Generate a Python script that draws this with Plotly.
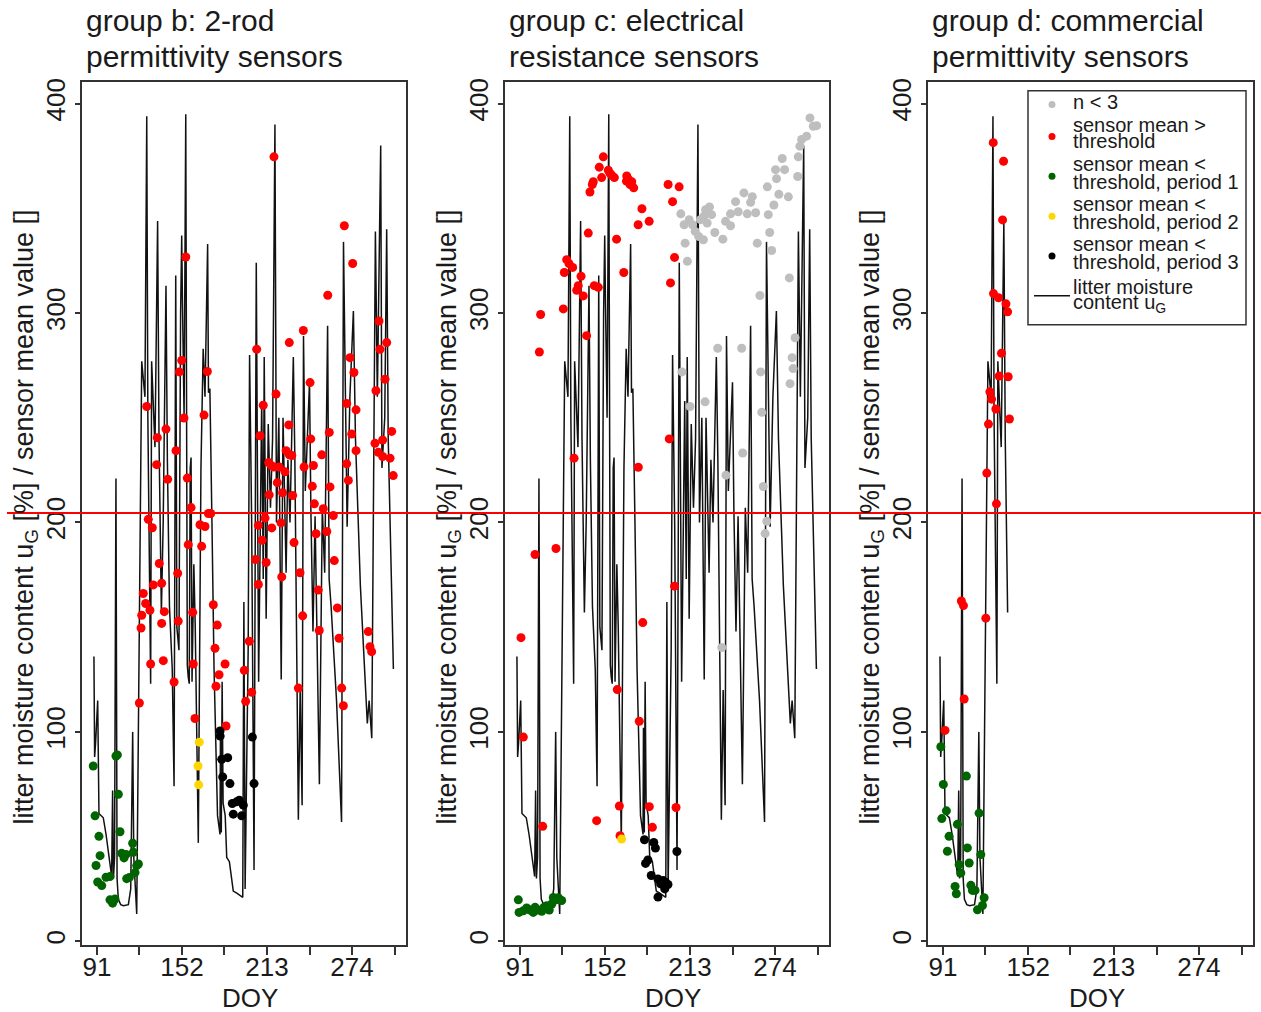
import plotly.graph_objects as go

W, H = 1261, 1012

# litter moisture content u_G (line), day of year and value
lmc_doy = [88.8, 89.3, 90.0, 91.5, 92.4, 95.5, 97.5, 100.3, 101.5, 102.2, 102.8, 103.6, 104.6, 105.4,
           106.3, 108.0, 110.0, 113.5, 115.2, 116.6, 117.4, 119.5, 121.4, 123.1, 125.4, 126.7, 127.5,
           129.5, 130.2, 131.5, 132.6, 134.5, 135.5, 137.2, 138.5, 140.5, 141.5, 143.0, 145.0, 146.3,
           147.5, 148.3, 149.8, 151.0, 151.8, 152.3, 153.5, 154.7, 155.8, 156.5, 157.2, 157.9, 158.5,
           159.2, 160.5, 161.5, 163.7, 165.6, 167.2, 168.5, 170.4, 171.0, 172.0, 173.5, 175.0, 177.5,
           179.3, 179.6, 180.2, 180.8, 181.5, 183.0, 184.1, 186.0, 187.5, 188.8, 191.3, 195.6, 196.4,
           197.3, 199.5, 200.5, 202.0, 203.7, 205.3, 207.0, 209.2, 210.3, 211.0, 212.4, 213.9, 215.5,
           217.0, 218.7, 219.8, 221.5, 223.2, 224.5, 226.7, 228.0, 229.5, 231.9, 233.0, 235.5, 236.8,
           238.2, 239.2, 240.5, 243.5, 244.5, 246.0, 247.5, 250.6, 252.7, 254.4, 256.5, 257.6, 259.0,
           262.9, 266.5, 267.9, 270.5, 272.5, 275.0, 276.5, 280.0, 285.0, 286.3, 288.2, 290.8, 292.2,
           294.6, 295.5, 297.5, 298.9, 300.0, 303.7]
lmc_val = [136, 88, 95, 115, 61, 59, 51, 37, 31, 72, 30, 40, 221, 30,
           20, 17.5, 17, 17.5, 25, 100, 40, 13, 140, 277, 260, 394, 250,
           123, 277, 250, 236, 344, 240, 157, 200, 313, 230, 160, 130, 74,
           318, 150, 139, 300, 337, 307, 250, 395, 132, 126, 123, 226, 231,
           124, 180, 150, 47, 226, 283, 260, 333, 262, 264, 200, 130, 60,
           51, 102, 52, 124, 66, 60, 40, 38, 30, 24, 23, 21, 162,
           25, 140, 280, 200, 34, 324, 124, 258, 173, 279, 154, 247, 207,
           240, 390, 200, 250, 125, 250, 176, 230, 200, 279, 230, 58, 120,
           65, 289, 215, 267, 206, 148, 203, 75, 207, 176, 294, 173, 160,
           115, 57, 334, 198, 260, 301, 240, 170, 104, 115, 97, 339, 260,
           380, 226, 250, 340, 240, 130]
lmc_last_doy_d = 138.0  # group d series ends here

# ---- group b: 2-rod permittivity sensors ----
b_red_doy = [218.0, 268.5, 274.5, 256.6, 239.1, 293.4, 298.9, 154.7, 229.0,
             205.6, 126.7, 151.8, 150.1, 170.2, 153.4, 167.8, 272.6, 275.4, 294.1, 297.7, 291.2,
             243.9, 219.5, 210.3, 270.2, 276.9, 134.3, 140.5, 133.8, 147.7, 141.7, 155.8, 208.0,
             228.6, 244.4, 257.7, 273.8, 276.9, 290.5, 296.0, 292.9, 296.0, 302.5, 301.3, 303.6,
             270.2, 271.4, 252.3, 246.3, 239.6, 226.7, 229.0, 230.8, 225.9, 221.8, 218.0, 215.9,
             214.2, 214.6, 220.4, 224.2, 231.4, 245.5, 247.0, 258.2, 253.4, 260.6, 248.2, 255.9,
             261.3, 211.6, 206.8, 216.4, 223.1, 209.5, 204.7, 212.4, 206.8, 223.6, 232.4, 236.7,
             238.6, 249.8, 250.5, 263.5, 264.7, 285.7, 286.9, 288.1, 127.8, 130.7, 164.9, 168.5,
             170.9, 172.6, 158.5, 166.1, 156.5, 135.7, 131.4, 137.4, 148.9, 124.2, 125.9, 129.0,
             123.1, 139.3, 137.4, 122.6, 149.3, 159.7, 174.5, 177.3, 175.7, 182.9, 196.7, 200.3,
             129.5, 138.6, 160.1,
             121.4, 146.3, 161.3, 176.4, 178.6, 183.6, 197.7, 202.0, 235.5, 266.6, 267.8]
b_red_val = [374.6, 341.7, 323.7, 308.5, 291.7, 296.2, 285.9, 326.8, 285.9,
             282.7, 255.4, 277.4, 271.9, 272.1, 249.9, 251.3, 278.7, 271.6, 282.7, 268.4, 262.9,
             266.8, 261.3, 256.0, 256.8, 253.8, 240.5, 244.6, 227.6, 234.3, 220.6, 221.2, 241.4,
             246.6, 239.9, 243.0, 242.2, 234.3, 237.8, 239.4, 233.5, 231.5, 243.5, 230.7, 222.4,
             228.0, 220.1, 232.3, 227.2, 226.5, 234.3, 232.3, 232.0, 224.2, 226.5, 226.5, 227.3,
             228.6, 213.2, 219.0, 214.2, 212.9, 217.3, 208.9, 217.0, 206.6, 203.3, 194.6, 195.7,
             181.8, 202.1, 198.6, 197.4, 199.8, 191.5, 182.3, 180.9, 170.4, 174.0, 190.4, 176.0,
             155.4, 167.7, 148.4, 159.2, 144.7, 147.9, 140.7, 138.3, 201.5, 197.5, 198.9, 198.1,
             204.3, 204.3, 207.1, 188.6, 189.4, 180.4, 170.2, 171.0, 175.7, 166.1, 161.3, 158.1,
             155.7, 157.4, 151.8, 149.6, 152.9, 157.1, 160.7, 151.0, 139.9, 132.4, 129.4, 143.3,
             132.4, 134.0, 132.4,
             113.8, 123.8, 106.4, 121.8, 127.3, 102.8, 114.6, 118.9, 120.9, 120.9, 112.5]
b_green_doy = [88.3, 89.6, 92.4, 93.2, 90.3, 91.5, 94.4, 97.5, 100.3, 104.6, 105.6, 106.3, 107.5,
               108.7, 110.4, 111.8, 112.3, 114.2, 116.6, 117.1, 118.3, 119.5, 120.7, 100.3, 102.2, 103.9]
b_green_val = [83.7, 59.9, 50.1, 40.9, 36.2, 28.3, 26.6, 30.6, 30.9, 88.5, 89.0, 70.2, 52.3,
               42.0, 39.8, 41.5, 29.9, 30.5, 46.8, 42.5, 32.8, 36.1, 36.9, 19.8, 18.2, 20.2]
b_yellow_doy = [164.4, 163.5, 164.0]
b_yellow_val = [95.1, 83.7, 74.7]
b_black_doy = [179.3, 179.4, 180.5, 184.8, 181.2, 186.4, 188.1, 191.2, 193.1, 196.0, 188.8, 194.8,
               202.5, 203.7]
b_black_val = [100.4, 98.0, 86.9, 87.7, 78.5, 75.3, 65.8, 66.6, 67.4, 65.0, 60.7, 59.9, 97.5, 75.3]

# ---- group c: electrical resistance sensors ----
c_grey_doy = [232.9, 250.1, 207.2, 263.7, 286.3, 287.0, 284.8, 288.4, 213.0, 223.8, 264.5, 250.8,
              238.8, 265.6, 268.1, 266.9, 235.8,
              206.4, 208.8, 212.4, 214.8, 216.7, 219.2, 222.6, 209.5, 211.1, 220.5, 222.9, 224.2,
              227.0, 228.5, 225.3, 230.8, 236.6, 238.5, 242.1, 242.1, 245.7, 247.6, 251.7, 254.1,
              256.5, 257.7, 260.1, 261.3, 268.5, 269.2, 270.2, 271.6, 273.2, 276.8, 279.2, 280.9,
              274.4, 275.1, 283.6, 284.3, 263.2, 290.3, 290.7, 291.9, 293.1, 296.7, 299.1, 301.5,
              303.9]
c_grey_val = [283.2, 283.2, 271.9, 271.9, 278.7, 273.5, 266.3, 288.2, 255.4, 257.6, 252.6, 233.2,
              222.6, 217.2, 200.6, 194.7, 140.3,
              347.4, 342.2, 344.6, 342.2, 339.0, 336.6, 335.0, 333.4, 324.7, 344.6, 346.2, 349.4,
              350.7, 347.0, 343.0, 338.5, 335.3, 343.8, 341.7, 347.4, 353.2, 348.4, 357.4, 347.4,
              352.9, 355.6, 347.9, 333.4, 360.3, 347.0, 338.5, 329.9, 351.6, 356.7, 373.8, 368.5,
              368.5, 364.2, 355.5, 316.8, 308.4, 365.2, 374.6, 379.7, 382.9, 384.5, 393.2, 389.2,
              389.5]
c_red_doy = [105.8, 122.1, 124.5, 126.2, 122.8, 128.8, 140.0, 141.2, 142.9, 143.6, 147.9, 150.8,
             149.6, 154.4, 155.6, 156.8, 158.7, 167.6, 168.8, 171.2, 170.0, 172.6, 167.4, 178.5,
             175.8, 183.7, 197.3, 205.2, 200.5, 160.3, 165.5, 201.9, 199.0, 132.8, 134.8, 131.7,
             136.4, 144.3, 147.2, 138.8,
             104.9, 129.8, 175.9, 198.1, 101.8, 116.8, 201.9, 179.1, 91.7,
             93.4, 107.3, 146.0, 160.8, 162.3, 162.8, 176.6, 183.8, 186.0, 203.0]
c_red_val = [299.3, 302.0, 325.5, 323.6, 319.4, 321.8, 338.2, 357.8, 361.4, 362.7, 369.7, 374.6,
             364.7, 368.2, 366.7, 365.8, 364.7, 365.5, 364.0, 362.7, 361.4, 359.8, 363.0, 349.8,
             342.2, 343.8, 361.4, 360.3, 353.2, 335.3, 319.4, 326.6, 314.4, 313.1, 317.6, 310.9,
             308.2, 313.1, 312.3, 289.2,
             281.4, 230.7, 226.4, 239.9, 184.7, 187.6, 169.6, 152.2, 145.0,
             97.5, 54.9, 57.6, 120.2, 64.6, 50.4, 105.1, 64.3, 54.4, 63.9]
c_green_doy = [89.8, 90.3, 93.4, 95.8, 98.2, 100.5, 101.8, 104.2, 106.6, 108.2, 110.2, 112.0, 113.8,
               114.9, 116.8, 118.5, 120.9]
c_green_val = [19.8, 13.8, 14.6, 15.9, 14.9, 13.8, 16.2, 14.9, 14.3, 16.2, 17.0, 14.9, 17.8,
               20.9, 19.8, 20.8, 19.5]
c_yellow_doy = [163.9]
c_yellow_val = [48.8]
c_black_doy = [180.3, 187.0, 188.2, 181.1, 182.8, 185.2, 190.0, 191.9, 193.8, 195.5, 197.2, 194.9,
               190.0, 203.6]
c_black_val = [48.5, 47.2, 44.5, 37.2, 38.8, 31.4, 29.8, 27.4, 29.0, 28.2, 27.1, 25.0, 21.1, 42.9]

# ---- group d: commercial permittivity sensors ----
d_red_doy = [126.9, 134.3, 133.6, 127.1, 130.7, 136.0, 137.2, 132.8, 131.1, 137.6, 124.5, 125.7,
             128.8, 138.5, 123.5, 122.3, 129.2, 104.1, 105.6, 121.6, 92.4, 106.1]
d_red_val = [381.4, 372.5, 344.5, 309.3, 307.3, 304.4, 300.6, 280.8, 269.9, 269.6, 262.4, 258.9,
             254.2, 249.4, 247.0, 223.6, 208.9, 162.5, 160.3, 154.3, 100.7, 115.7]
d_green_doy = [89.4, 91.2, 90.1, 93.4, 95.3, 94.1, 99.6, 100.5, 101.3, 102.5, 103.7, 107.7, 108.4,
               109.7, 110.9, 112.0, 113.9, 115.6, 116.8, 118.0, 119.2, 120.4]
d_green_val = [92.9, 74.9, 58.6, 62.3, 50.1, 43.0, 26.2, 22.7, 55.9, 36.6, 32.6, 78.9, 44.6,
               37.4, 26.7, 24.3, 24.3, 15.0, 61.2, 41.4, 17.1, 20.8]

threshold_line = 204.5

x_major_ticks = [91, 152, 213, 274]
x_minor_ticks = [121, 182, 244, 305]
y_ticks = [0, 100, 200, 300, 400]

COL_GREY = "#BEBEBE"
COL_RED = "#FF0000"
COL_GREEN = "#006400"
COL_YELLOW = "#FFD700"
COL_BLACK = "#000000"
AXIS_COL = "#333333"
TEXT_COL = "#1a1a1a"
FONT = "Liberation Sans, Arial, Helvetica, sans-serif"


def px_x(p):
    return p / W


def px_y(p):
    return 1 - p / H


panel_titles = [("group b: 2-rod", "permittivity sensors"),
                ("group c: electrical", "resistance sensors"),
                ("group d: commercial", "permittivity sensors")]
panel_boxes = [(82, 406), (505, 829), (928, 1253)]
box_top, box_bottom = 78, 945

d_line_doy = [d for d in lmc_doy if d <= lmc_last_doy_d]
d_line_val = [v for d, v in zip(lmc_doy, lmc_val) if d <= lmc_last_doy_d]

panel_series = [
    dict(line=(lmc_doy, lmc_val),
         pts=[(b_red_doy, b_red_val, COL_RED), (b_green_doy, b_green_val, COL_GREEN),
              (b_yellow_doy, b_yellow_val, COL_YELLOW), (b_black_doy, b_black_val, COL_BLACK)]),
    dict(line=(lmc_doy, lmc_val),
         pts=[(c_grey_doy, c_grey_val, COL_GREY), (c_red_doy, c_red_val, COL_RED),
              (c_green_doy, c_green_val, COL_GREEN), (c_yellow_doy, c_yellow_val, COL_YELLOW),
              (c_black_doy, c_black_val, COL_BLACK)]),
    dict(line=(d_line_doy, d_line_val),
         pts=[(d_red_doy, d_red_val, COL_RED), (d_green_doy, d_green_val, COL_GREEN)]),
]

fig = go.Figure()
layout = dict(
    width=W, height=H, autosize=False,
    margin=dict(l=0, r=0, t=0, b=0),
    paper_bgcolor="white", plot_bgcolor="white",
    showlegend=False,
    font=dict(family=FONT, color=TEXT_COL),
)

annotations = []
shapes = []

for i, (series, (left, right), titles) in enumerate(zip(panel_series, panel_boxes, panel_titles)):
    sfx = "" if i == 0 else str(i + 1)
    xa, ya = "x" + sfx, "y" + sfx
    ldoy, lval = series["line"]
    fig.add_trace(go.Scatter(x=ldoy, y=lval, mode="lines", xaxis=xa, yaxis=ya,
                             line=dict(color="#111111", width=1.5), hoverinfo="skip"))
    for dx, dy, col in series["pts"]:
        fig.add_trace(go.Scatter(x=dx, y=dy, mode="markers", xaxis=xa, yaxis=ya,
                                 marker=dict(color=col, size=9, line=dict(width=0))))

    layout["xaxis" + sfx] = dict(
        domain=[px_x(left), px_x(right)], range=[80.23, 312.76], anchor=ya,
        tickmode="array", tickvals=x_major_ticks,
        ticks="outside", ticklen=8, tickwidth=1.5, tickcolor=AXIS_COL,
        ticklabelstandoff=-10,
        minor=dict(tickmode="array", tickvals=x_minor_ticks, ticks="outside", ticklen=8,
                   tickwidth=1.5, tickcolor=AXIS_COL, showgrid=False),
        showline=True, mirror=True, linecolor=AXIS_COL, linewidth=1.5,
        showgrid=False, zeroline=False, tickfont=dict(size=26, color=TEXT_COL),
    )
    layout["yaxis" + sfx] = dict(
        domain=[px_y(box_bottom), px_y(box_top)], range=[-1.9, 410.5], anchor=xa,
        tickmode="array", tickvals=y_ticks, tickangle=-90,
        ticks="outside", ticklen=5, tickwidth=1.5, tickcolor=AXIS_COL,
        showline=True, mirror=True, linecolor=AXIS_COL, linewidth=1.5,
        showgrid=False, zeroline=False, tickfont=dict(size=26, color=TEXT_COL),
    )

    # panel titles (two lines, left aligned)
    annotations.append(dict(text=titles[0], x=px_x(left + 2), y=px_y(17), xref="paper", yref="paper",
                            xanchor="left", yanchor="middle", showarrow=False,
                            font=dict(size=30, color=TEXT_COL, family=FONT)))
    annotations.append(dict(text=titles[1], x=px_x(left + 2), y=px_y(53), xref="paper", yref="paper",
                            xanchor="left", yanchor="middle", showarrow=False,
                            font=dict(size=30, color=TEXT_COL, family=FONT)))
    # y-axis title
    annotations.append(dict(text="litter moisture content u<sub>G</sub> [%] / sensor mean value []",
                            x=px_x(left - 56), y=px_y((box_top + box_bottom) / 2 + 4),
                            xref="paper", yref="paper", xanchor="center", yanchor="middle",
                            textangle=-90, showarrow=False,
                            font=dict(size=27, color=TEXT_COL, family=FONT)))
    # x-axis title
    annotations.append(dict(text="DOY", x=px_x((left + right) / 2 + 6), y=px_y(998),
                            xref="paper", yref="paper", xanchor="center", yanchor="middle",
                            showarrow=False, font=dict(size=26, color=TEXT_COL, family=FONT)))

# threshold line across the whole figure
shapes.append(dict(type="line", xref="paper", yref="y", x0=px_x(7), x1=1,
                   y0=threshold_line, y1=threshold_line, line=dict(color=COL_RED, width=2)))

# legend box in group d panel
shapes.append(dict(type="rect", xref="paper", yref="paper",
                   x0=px_x(1028), x1=px_x(1246), y0=px_y(322), y1=px_y(87),
                   line=dict(color=AXIS_COL, width=1.5), fillcolor="white", layer="above"))
legend_items = [
    (COL_GREY, 101, [("n < 3", 98)]),
    (COL_RED, 133, [("sensor mean >", 121), ("threshold", 138)]),
    (COL_GREEN, 173, [("sensor mean <", 161), ("threshold, period 1", 179)]),
    (COL_YELLOW, 213, [("sensor mean <", 201), ("threshold, period 2", 219)]),
    (COL_BLACK, 253, [("sensor mean <", 241), ("threshold, period 3", 259)]),
    (None, 293, [("litter moisture", 284), ("content u<sub>G</sub>", 301)]),
]
for col, ymark, lines in legend_items:
    if col is None:
        shapes.append(dict(type="line", xref="paper", yref="paper",
                           x0=px_x(1034), x1=px_x(1070), y0=px_y(ymark), y1=px_y(ymark),
                           line=dict(color="#111111", width=1.5), layer="above"))
    else:
        shapes.append(dict(type="circle", xref="paper", yref="paper",
                           xsizemode="pixel", ysizemode="pixel",
                           xanchor=px_x(1052), yanchor=px_y(ymark),
                           x0=-3.5, x1=3.5, y0=-3.5, y1=3.5,
                           fillcolor=col, line=dict(width=0), layer="above"))
    for txt, yc in lines:
        annotations.append(dict(text=txt, x=px_x(1071), y=px_y(yc), xref="paper", yref="paper",
                                xanchor="left", yanchor="middle", showarrow=False,
                                font=dict(size=20, color=TEXT_COL, family=FONT)))

layout["annotations"] = annotations
layout["shapes"] = shapes
fig.update_layout(**layout)

fig.write_html("out.html")
